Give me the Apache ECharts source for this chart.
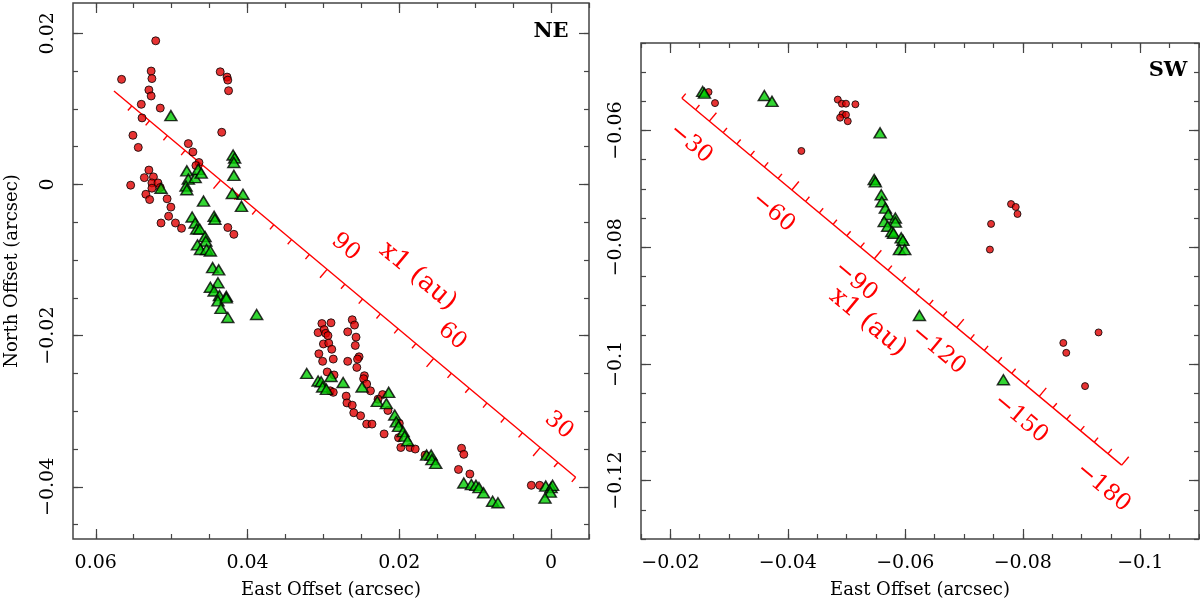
<!DOCTYPE html>
<html><head><meta charset="utf-8">
<script src="https://cdn.jsdelivr.net/npm/echarts@6/dist/echarts.min.js"></script>
<style>html,body{margin:0;padding:0;background:#fff}#c{width:1200px;height:604px}</style>
</head><body><div id="c"></div>
<script>
// ---------- data (arcsec) ----------
const neCircles = [
 [0.0521,0.0190],[0.0527,0.0150],[0.0526,0.0140],[0.0566,0.0139],[0.0530,0.0125],[0.0527,0.0117],
 [0.0540,0.0106],[0.0515,0.0101],[0.0539,0.0088],[0.0551,0.0065],[0.0544,0.0049],[0.0436,0.0149],
 [0.0427,0.0142],[0.0426,0.0138],[0.0425,0.0124],[0.0434,0.0069],[0.0478,0.0054],[0.0472,0.0043],
 [0.0464,0.0029],[0.0468,0.0025],[0.0530,0.0019],[0.0536,0.0009],[0.0524,0.0010],[0.0554,-0.0001],
 [0.0526,0.0002],[0.0518,0.0002],[0.0526,-0.0005],[0.0515,-0.0004],[0.0534,-0.0013],[0.0529,-0.0020],
 [0.0506,-0.0019],[0.0501,-0.0030],[0.0504,-0.0042],[0.0514,-0.0051],[0.0495,-0.0051],[0.0487,-0.0058],
 [0.0426,-0.0057],[0.0418,-0.0066],
 [0.0302,-0.0184],[0.0290,-0.0183],[0.0307,-0.0196],[0.0299,-0.0192],[0.0297,-0.0197],[0.0294,-0.0200],
 [0.0300,-0.0211],[0.0293,-0.0210],[0.0289,-0.0218],[0.0306,-0.0224],[0.0301,-0.0234],[0.0287,-0.0231],
 [0.0262,-0.0179],[0.0259,-0.0186],[0.0268,-0.0195],[0.0257,-0.0202],[0.0258,-0.0213],[0.0253,-0.0228],
 [0.0255,-0.0231],[0.0268,-0.0234],[0.0256,-0.0242],[0.0295,-0.0248],[0.0286,-0.0252],[0.0246,-0.0253],
 [0.0247,-0.0257],[0.0243,-0.0264],[0.0238,-0.0273],[0.0291,-0.0273],[0.0287,-0.0275],[0.0270,-0.0280],
 [0.0269,-0.0289],[0.0262,-0.0292],[0.0260,-0.0302],[0.0251,-0.0306],[0.0243,-0.0317],[0.0236,-0.0317],
 [0.0220,-0.0330],[0.0222,-0.0278],[0.0228,-0.0284],[0.0215,-0.0299],[0.0200,-0.0316],[0.0201,-0.0335],
 [0.0198,-0.0348],[0.0186,-0.0348],[0.0179,-0.0350],[0.0166,-0.0358],[0.0118,-0.0349],[0.0115,-0.0357],
 [0.0122,-0.0377],[0.0107,-0.0383],[0.0026,-0.0398],[0.0015,-0.0398]
];
const neTriangles = [
 [0.0501,0.0091],[0.0419,0.0039],[0.0417,0.0035],[0.0418,0.0029],[0.0418,0.0012],[0.0480,0.0018],
 [0.0478,0.0007],[0.0469,0.0009],[0.0465,0.0020],[0.0461,0.0015],[0.0481,-0.0002],[0.0480,-0.0007],
 [0.0514,-0.0005],[0.0458,-0.0022],[0.0420,-0.0012],[0.0406,-0.0013],[0.0408,-0.0029],[0.0444,-0.0042],
 [0.0443,-0.0046],[0.0473,-0.0043],[0.0469,-0.0051],[0.0467,-0.0059],[0.0463,-0.0059],[0.0456,-0.0069],
 [0.0455,-0.0075],[0.0466,-0.0080],[0.0462,-0.0086],[0.0454,-0.0086],[0.0449,-0.0088],[0.0446,-0.0110],
 [0.0438,-0.0113],[0.0439,-0.0130],[0.0449,-0.0136],[0.0444,-0.0141],[0.0437,-0.0147],[0.0428,-0.0148],
 [0.0439,-0.0154],[0.0428,-0.0150],[0.0435,-0.0164],[0.0426,-0.0176],[0.0388,-0.0172],
 [0.0322,-0.0250],[0.0307,-0.0260],[0.0303,-0.0261],[0.0301,-0.0268],[0.0296,-0.0271],[0.0290,-0.0254],
 [0.0274,-0.0262],[0.0249,-0.0268],[0.0229,-0.0287],[0.0217,-0.0290],[0.0214,-0.0275],[0.0206,-0.0305],
 [0.0204,-0.0314],[0.0201,-0.0320],[0.0195,-0.0327],[0.0193,-0.0333],[0.0189,-0.0339],[0.0164,-0.0358],
 [0.0158,-0.0358],[0.0157,-0.0364],[0.0152,-0.0369],[0.0115,-0.0395],[0.0105,-0.0397],[0.0099,-0.0398],
 [0.0095,-0.0401],[0.0089,-0.0408],[0.0077,-0.0419],[0.0070,-0.0421],[0.0007,-0.0399],[0.0000,-0.0401],
 [-0.0002,-0.0398],[0.0001,-0.0407],[0.0008,-0.0415]
];
const swCircles = [
 [-0.0265,-0.0534],[-0.0276,-0.0553],[-0.0485,-0.0547],[-0.0492,-0.0554],[-0.0499,-0.0554],[-0.0515,-0.0555],
 [-0.0493,-0.0572],[-0.0499,-0.0573],[-0.0489,-0.0578],[-0.0502,-0.0584],[-0.0423,-0.0635],[-0.0746,-0.0760],
 [-0.0744,-0.0804],[-0.0780,-0.0726],[-0.0788,-0.0731],[-0.0791,-0.0743],[-0.0929,-0.0946],[-0.0869,-0.0964],
 [-0.0874,-0.0981],[-0.0906,-0.1038]
];
const swTriangles = [
 [-0.0255,-0.0533],[-0.0258,-0.0536],[-0.0360,-0.0540],[-0.0373,-0.0550],[-0.0557,-0.0604],[-0.0547,-0.0684],
 [-0.0549,-0.0688],[-0.0559,-0.0710],[-0.0560,-0.0722],[-0.0566,-0.0733],[-0.0571,-0.0744],[-0.0583,-0.0750],
 [-0.0564,-0.0756],[-0.0583,-0.0757],[-0.0570,-0.0764],[-0.0577,-0.0773],[-0.0580,-0.0776],[-0.0593,-0.0784],
 [-0.0596,-0.0788],[-0.0590,-0.0804],[-0.0599,-0.0804],[-0.0624,-0.0917],[-0.0767,-0.1027]
];
// ---------- axes ----------
const neXRange = [-0.005, 0.063], neYRange = [-0.0469, 0.024];
const swXRange = [-0.11, -0.015], swYRange = [-0.13, -0.045];
const neXMajor = [0, 0.02, 0.04, 0.06], neYMajor = [-0.04, -0.02, 0, 0.02];
const swXMajor = [-0.1, -0.08, -0.06, -0.04, -0.02], swYMajor = [-0.12, -0.1, -0.08, -0.06];
const minorStep = 0.005;
const xTitle = 'East Offset (arcsec)', yTitle = 'North Offset (arcsec)';
// x1 projected axis: position (arcsec) at x1 = 0 and arcsec per au
const x1Origin = [-0.0126, -0.0466];
const x1PerAu = [0.000468, 0.000393];
const neX1Line = [150, 20], neX1TickRange = [20, 145], neX1Major = [30, 60, 90, 120], neX1Labels = [30, 60, 90], neX1TitleAt = 74;
const swX1Line = [-20, -180], swX1TickRange = [-180, -20], swX1Major = [-30, -60, -90, -120, -150, -180], swX1Labels = [-30, -60, -90, -120, -150, -180], swX1TitleAt = -100;
const x1Title = 'x1 (au)';
const panelNames = ['NE', 'SW'];

const FONT = '"DejaVu Serif", serif';
const AX = '#444';
function fmt(v) { const s = parseFloat(Math.abs(v).toFixed(4)).toString(); return (v < -1e-12 ? '\u2212' : '') + s; }
function stepTicks(r, s) { const lo = Math.min(r[0], r[1]), hi = Math.max(r[0], r[1]); const out = [];
  for (let k = Math.ceil(lo / s - 1e-6); k * s <= hi + 1e-9; k++) out.push(+(k * s).toFixed(6)); return out; }

function axesFor(gi, dim, range, major, name, nameGap, inverse) {
  const minor = stepTicks(range, minorStep);
  const isX = dim === 'x';
  const pos = isX ? ['bottom', 'top'] : ['left', 'right'];
  const base = { gridIndex: gi, type: 'value', min: range[0], max: range[1], inverse: inverse,
    splitLine: { show: false }, axisLine: { show: false, onZero: false } };
  const tick = (vals, len) => ({ show: true, inside: true, length: len, customValues: vals, lineStyle: { color: AX, width: 1.2 } });
  const main = Object.assign({}, base, { position: pos[0], axisTick: tick(major, 10),
    axisLabel: { customValues: major, formatter: fmt, margin: isX ? 15 : 15, rotate: isX ? 0 : 90,
      fontFamily: FONT, fontSize: 19, color: '#000' } });
  if (name) Object.assign(main, { name: name, nameLocation: 'middle', nameGap: nameGap,
      nameTextStyle: { fontFamily: FONT, fontSize: 18, color: '#000' } });
  return [main,
    Object.assign({}, base, { position: pos[0], axisTick: tick(minor, 5), axisLabel: { show: false } }),
    Object.assign({}, base, { position: pos[1], axisTick: tick(major, 10), axisLabel: { show: false } }),
    Object.assign({}, base, { position: pos[1], axisTick: tick(minor, 5), axisLabel: { show: false } })];
}

function x1Pt(a) { return [x1Origin[0] + a * x1PerAu[0], x1Origin[1] + a * x1PerAu[1]]; }
function frame(api, a) { // screen point and unit direction of increasing x1
  const p = api.coord(x1Pt(a)), q = api.coord(x1Pt(a + 1));
  const dx = q[0] - p[0], dy = q[1] - p[1], L = Math.hypot(dx, dy);
  return { p: p, u: [dx / L, dy / L] };
}
const RED = '#ff0000';
function x1Series(xi, yi, line, tickRange, major, labels, titleAt, side) {
  // side = +1: ticks to lower-left, labels upper-right; -1: opposite
  const ticks = stepTicks(tickRange, 5);
  const txtRot = (u) => -Math.atan2(-u[1], -u[0]);
  return [{
    type: 'custom', xAxisIndex: xi, yAxisIndex: yi, silent: true, z: 1, clip: false,
    data: [line],
    renderItem: function (params, api) {
      const A = api.coord(x1Pt(api.value(0))), B = api.coord(x1Pt(api.value(1)));
      const f = frame(api, titleAt);
      const n = [side * f.u[1], -side * f.u[0]];
      return { type: 'group', children: [
        { type: 'line', shape: { x1: A[0], y1: A[1], x2: B[0], y2: B[1] }, style: { stroke: RED, lineWidth: 1.4 } },
        { type: 'text', x: f.p[0] - n[0] * 53, y: f.p[1] - n[1] * 53, rotation: txtRot(f.u),
          style: { text: x1Title, fill: RED, font: '26px ' + FONT, align: 'center', verticalAlign: 'middle' } }
      ] };
    }
  }, {
    type: 'custom', xAxisIndex: xi, yAxisIndex: yi, silent: true, z: 1, clip: false,
    data: ticks.map(t => [t]),
    renderItem: function (params, api) {
      const a = api.value(0);
      const f = frame(api, a);
      const n = [side * f.u[1], -side * f.u[0]];
      const isMaj = major.some(m => Math.abs(m - a) < 1e-6);
      const len = isMaj ? 11 : 6;
      const ch = [{ type: 'line', shape: { x1: f.p[0], y1: f.p[1], x2: f.p[0] + n[0] * len, y2: f.p[1] + n[1] * len },
        style: { stroke: RED, lineWidth: 1.4 } }];
      if (labels.some(m => Math.abs(m - a) < 1e-6)) {
        ch.push({ type: 'text', x: f.p[0] - n[0] * 29, y: f.p[1] - n[1] * 29, rotation: txtRot(f.u),
          style: { text: fmt(a), fill: RED, font: '23px ' + FONT, align: 'center', verticalAlign: 'middle' } });
      }
      return { type: 'group', children: ch };
    }
  }];
}

const xAxes = [].concat(
  axesFor(0, 'x', neXRange, neXMajor, xTitle, 42, true),
  axesFor(1, 'x', swXRange, swXMajor, xTitle, 42, true));
const yAxes = [].concat(
  axesFor(0, 'y', neYRange, neYMajor, yTitle, 52, false),
  axesFor(1, 'y', swYRange, swYMajor, null, 0, false));

const circleStyle = { color: '#e00000', borderColor: '#000', borderWidth: 1 };
const triStyle = { color: '#00cc00', borderColor: '#000', borderWidth: 1.5 };
const series = [].concat(
  x1Series(0, 0, neX1Line, neX1TickRange, neX1Major, neX1Labels, neX1TitleAt, 1),
  x1Series(4, 4, swX1Line, swX1TickRange, swX1Major, swX1Labels, swX1TitleAt, -1),
  [
    { type: 'scatter', xAxisIndex: 0, yAxisIndex: 0, data: neCircles, symbol: 'circle', symbolSize: 8, itemStyle: circleStyle, z: 3, silent: true },
    { type: 'scatter', xAxisIndex: 0, yAxisIndex: 0, data: neTriangles, symbol: 'triangle', symbolSize: [12, 10], itemStyle: triStyle, z: 4, silent: true },
    { type: 'scatter', xAxisIndex: 4, yAxisIndex: 4, data: swCircles, symbol: 'circle', symbolSize: 7, itemStyle: circleStyle, z: 3, silent: true },
    { type: 'scatter', xAxisIndex: 4, yAxisIndex: 4, data: swTriangles, symbol: 'triangle', symbolSize: [12, 10], itemStyle: triStyle, z: 4, silent: true }
  ]);

const chart = echarts.init(document.getElementById('c'), null, { renderer: 'canvas' });
chart.setOption({
  animation: false,
  backgroundColor: '#fff',
  grid: [
    { left: 73, top: 3, width: 516, height: 538, show: true, borderColor: AX, borderWidth: 1.5, backgroundColor: 'transparent' },
    { left: 641, top: 43, width: 558, height: 497, show: true, borderColor: AX, borderWidth: 1.5, backgroundColor: 'transparent' }
  ],
  xAxis: xAxes,
  yAxis: yAxes,
  graphic: [
    { type: 'text', x: 551, y: 32, style: { text: panelNames[0], font: 'bold 21px ' + FONT, fill: '#000', align: 'center', verticalAlign: 'middle' } },
    { type: 'text', x: 1168, y: 71, style: { text: panelNames[1], font: 'bold 21px ' + FONT, fill: '#000', align: 'center', verticalAlign: 'middle' } }
  ],
  series: series
});
</script></body></html>
